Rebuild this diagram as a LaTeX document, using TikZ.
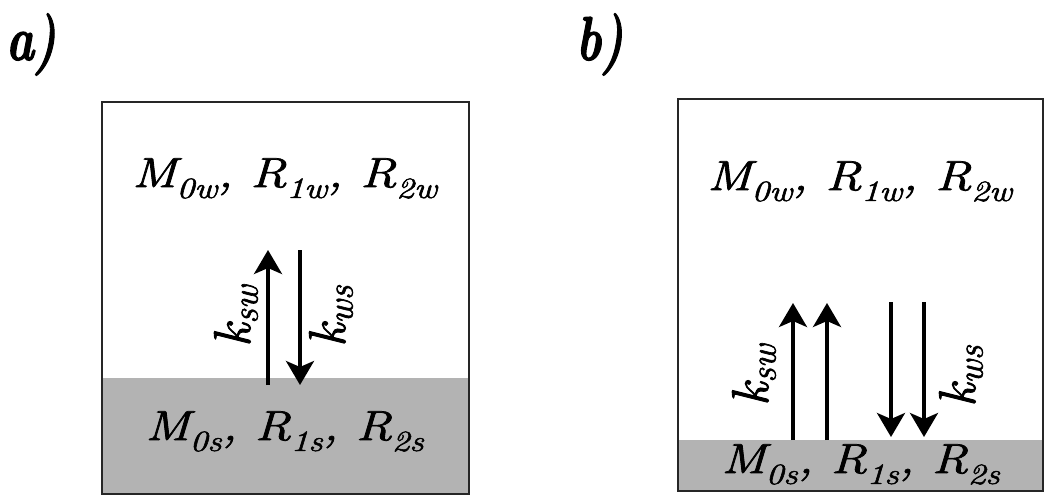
\documentclass[tikz,border=0pt]{standalone}
\usepackage{fontspec}
\usetikzlibrary{arrows.meta}
\definecolor{sedgray}{HTML}{B3B3B3}
\newfontfamily\heavyit[FakeBold=1.7]{Latin Modern Roman}
\newfontfamily\heaviestit[FakeBold=2]{Latin Modern Roman}
\tikzset{
  panel/.style={draw=black!85, line width=2.8pt},
  sediment/.style={fill=sedgray, draw=none},
  flux/.style={line width=3.6pt, -{Stealth[length=24pt,width=28pt,inset=6pt]}},
  species/.style={font=\fontsize{42}{48}\selectfont\heavyit\itshape, inner sep=0pt, anchor=base, xscale=1.2, transform shape},
  rate/.style={font=\fontsize{52}{60}\selectfont\heavyit\itshape, inner sep=0pt, rotate=90},
  tag/.style={font=\fontsize{62}{70}\selectfont\heaviestit\bfseries\itshape, inner sep=0pt, anchor=base west, xscale=0.76, transform shape}
}
\begin{document}
\begin{tikzpicture}[x=1pt,y=-1pt]
\useasboundingbox (0,0) rectangle (1050,496);
% panel a
\fill[sediment] (102,378) rectangle (469,495);
\draw[panel] (102,102) rectangle (469,494);
\node[tag] (la) at (6,60) {a)};
\node[species] (wa) at (285,187) {M\textsubscript{0w}, R\textsubscript{1w}, R\textsubscript{2w}};
\node[species] (sa) at (285,440) {M\textsubscript{0s}, R\textsubscript{1s}, R\textsubscript{2s}};
\coordinate (au0) at (268,385); \coordinate (au1) at (268,250);
\coordinate (ad0) at (300,250); \coordinate (ad1) at (300,385);
\draw[flux] (au0) -- (au1);
\draw[flux] (ad0) -- (ad1);
\node[rate] (ksa) at (236,316) {k\textsubscript{sw}};
\node[rate] (kwa) at (331,316) {k\textsubscript{ws}};
% panel b
\fill[sediment] (678,440) rectangle (1043,492);
\draw[panel] (678,99) rectangle (1043,491);
\node[tag] (lb) at (576,60) {b)};
\node[species] (wb) at (860,190) {M\textsubscript{0w}, R\textsubscript{1w}, R\textsubscript{2w}};
\node[species] (sb) at (861,473) {M\textsubscript{0s}, R\textsubscript{1s}, R\textsubscript{2s}};
\coordinate (bu0) at (793,440); \coordinate (bu1) at (793,303);
\coordinate (bv0) at (827,440); \coordinate (bv1) at (827,303);
\coordinate (bd0) at (891,302); \coordinate (bd1) at (891,437);
\coordinate (be0) at (924,302); \coordinate (be1) at (924,437);
\draw[flux] (bu0) -- (bu1);
\draw[flux] (bv0) -- (bv1);
\draw[flux] (bd0) -- (bd1);
\draw[flux] (be0) -- (be1);
\node[rate] (ksb) at (754,375) {k\textsubscript{sw}};
\node[rate] (kwb) at (961,376) {k\textsubscript{ws}};
\end{tikzpicture}
\end{document}
